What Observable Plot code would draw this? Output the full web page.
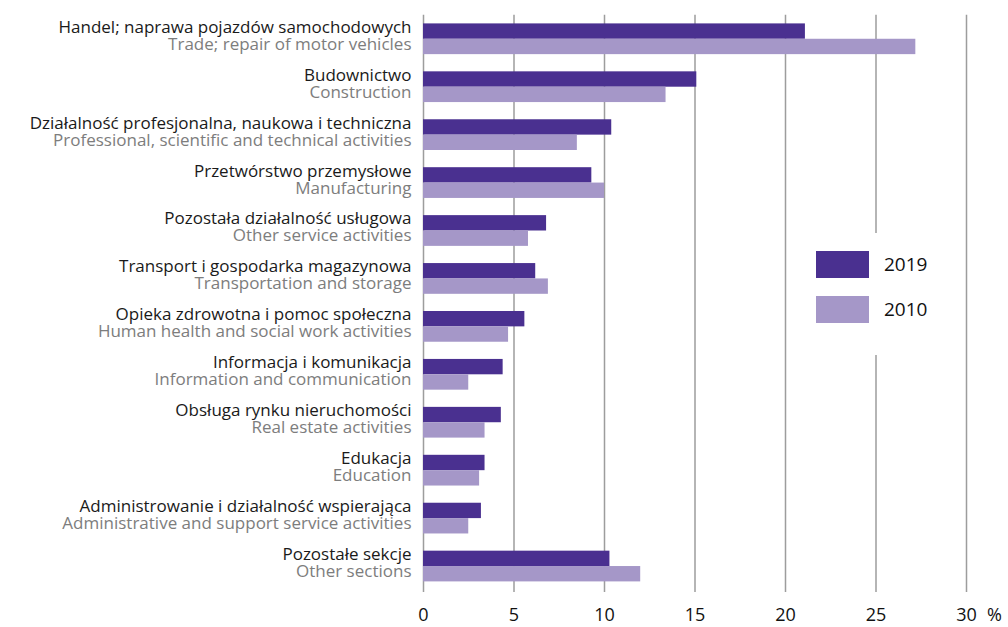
<!DOCTYPE html>
<html>
<head>
<meta charset="utf-8">
<script src="https://cdn.jsdelivr.net/npm/d3@7"></script>
<script src="https://cdn.jsdelivr.net/npm/@observablehq/plot@0.6"></script>
<style>
  body { margin: 0; background: #fff; }
  #wrap { position: relative; width: 1008px; height: 627px; font-family: "Open Sans", sans-serif; }
  #legend { position: absolute; left: 795px; top: 233px; width: 165px; height: 122px; background: #fff; }
  .sw { position: absolute; left: 21px; width: 53px; height: 27px; }
  .lt { position: absolute; left: 89px; height: 27px; line-height: 27px; font-size: 19px; color: #111; }
</style>
</head>
<body>
<div id="wrap"></div>
<script>
const categoriesPL = [
  "Handel; naprawa pojazdów samochodowych",
  "Budownictwo",
  "Działalność profesjonalna, naukowa i techniczna",
  "Przetwórstwo przemysłowe",
  "Pozostała działalność usługowa",
  "Transport i gospodarka magazynowa",
  "Opieka zdrowotna i pomoc społeczna",
  "Informacja i komunikacja",
  "Obsługa rynku nieruchomości",
  "Edukacja",
  "Administrowanie i działalność wspierająca",
  "Pozostałe sekcje"
];
const categoriesEN = [
  "Trade; repair of motor vehicles",
  "Construction",
  "Professional, scientific and technical activities",
  "Manufacturing",
  "Other service activities",
  "Transportation and storage",
  "Human health and social work activities",
  "Information and communication",
  "Real estate activities",
  "Education",
  "Administrative and support service activities",
  "Other sections"
];
const values2019 = [21.1, 15.1, 10.4, 9.3, 6.8, 6.2, 5.6, 4.4, 4.3, 3.4, 3.2, 10.3];
const values2010 = [27.2, 13.4, 8.5, 10.0, 5.8, 6.9, 4.7, 2.5, 3.4, 3.1, 2.5, 12.0];
const seriesNames = ["2019", "2010"];
const seriesColors = ["#4a3090", "#a597c8"];
const xTicks = [0, 5, 10, 15, 20, 25, 30];
const unitLabel = "%";

const rows = [];
categoriesPL.forEach((c, i) => {
  rows.push({cat: c, en: categoriesEN[i], series: "2019", key: c + "|2019", value: values2019[i]});
  rows.push({cat: c, en: categoriesEN[i], series: "2010", key: c + "|2010", value: values2010[i]});
});
const yDomain = rows.map(d => d.key);

const chart = Plot.plot({
  width: 1008,
  height: 627,
  marginLeft: 423,
  marginRight: 42,
  marginTop: 14.8,
  marginBottom: 37,
  style: {fontFamily: '"Open Sans", sans-serif', fontSize: "18px", background: "transparent", color: "#111"},
  x: {domain: [0, 30], ticks: xTicks, tickSize: 0, tickPadding: 18, label: null, tickFormat: d => String(d)},
  y: {domain: yDomain, padding: 0, round: false, axis: null},
  color: {domain: seriesNames, range: seriesColors},
  marks: [
    Plot.ruleX(xTicks, {stroke: "#9d9d9d", strokeWidth: 1.5, insetBottom: -2}),
    Plot.barX(rows.filter(d => d.series === "2019"), {x: "value", y: "key", fill: "series", insetTop: 8.6}),
    Plot.barX(rows.filter(d => d.series === "2010"), {x: "value", y: "key", fill: "series", insetBottom: 8.6}),
    Plot.text(rows.filter(d => d.series === "2019"), {y: "key", text: "cat", frameAnchor: "left", textAnchor: "end", dx: -12, dy: 0, fill: "#1a1a1a", fontSize: 17}),
    Plot.text(rows.filter(d => d.series === "2010"), {y: "key", text: "en", frameAnchor: "left", textAnchor: "end", dx: -12, dy: -7, fill: "#7d7d7d", fontSize: 17}),
    Plot.text([unitLabel], {x: () => 30, text: d => d, frameAnchor: "bottom", lineAnchor: "top", dy: 18, dx: 28, fontSize: 18, fill: "#111"})
  ]
});

const wrap = document.getElementById("wrap");
wrap.appendChild(chart);

const legend = document.createElement("div");
legend.id = "legend";
seriesNames.forEach((s, i) => {
  const sw = document.createElement("div");
  sw.className = "sw";
  sw.style.top = (18 + i * 45) + "px";
  sw.style.background = seriesColors[i];
  legend.appendChild(sw);
  const lt = document.createElement("div");
  lt.className = "lt";
  lt.style.top = (18 + i * 45) + "px";
  lt.textContent = s;
  legend.appendChild(lt);
});
wrap.appendChild(legend);
chart.style.position = "absolute";
chart.style.left = "0";
chart.style.top = "0";
</script>
</body>
</html>
